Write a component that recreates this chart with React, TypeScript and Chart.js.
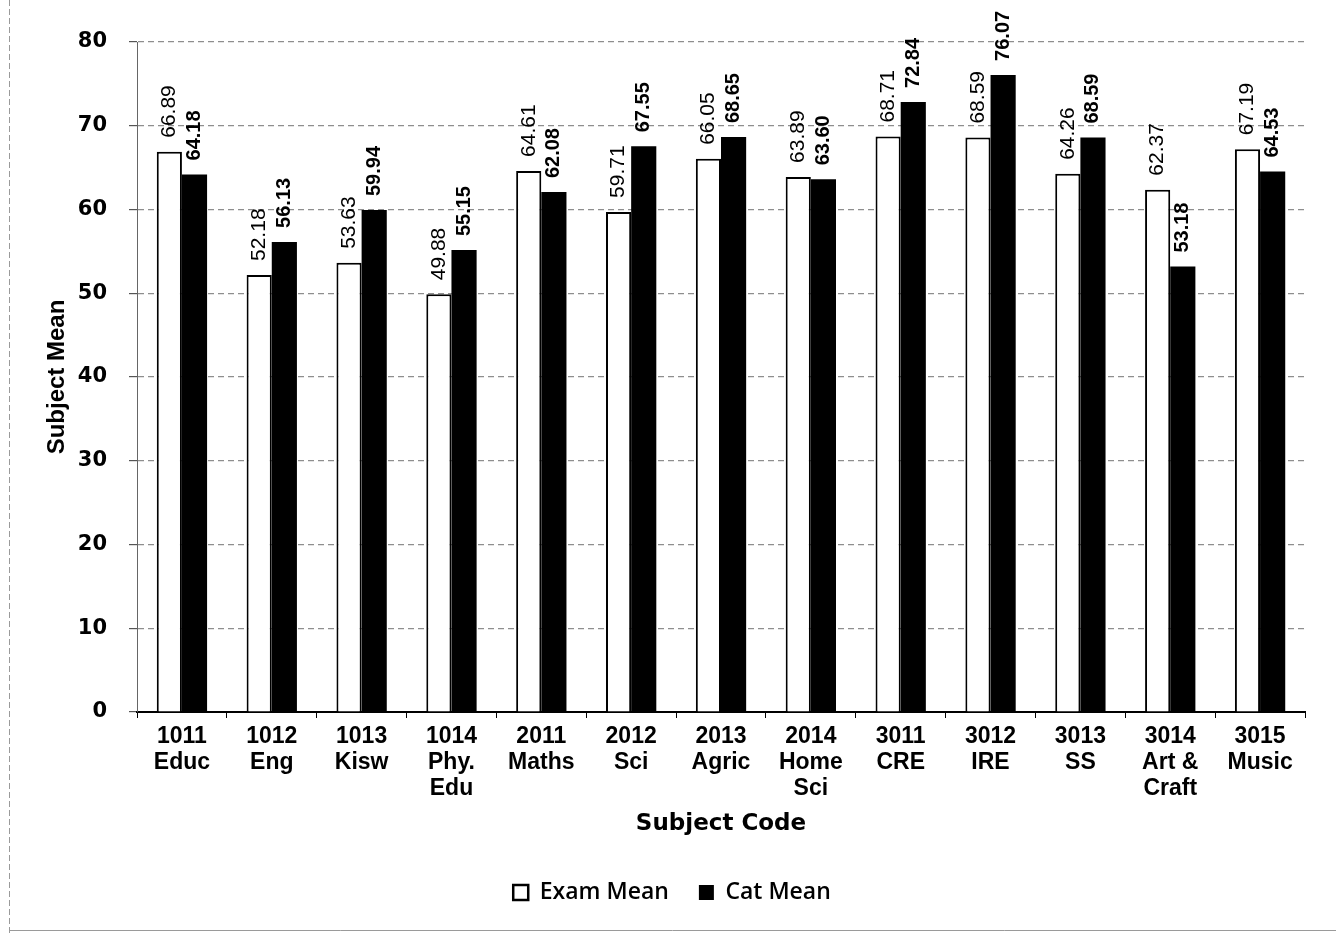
import React, { useEffect, useRef } from "react";
import { Chart, registerables } from "chart.js";

Chart.register(...registerables);

const categories: string[][] = [
  ["1011", "Educ"],
  ["1012", "Eng"],
  ["1013", "Kisw"],
  ["1014", "Phy.", "Edu"],
  ["2011", "Maths"],
  ["2012", "Sci"],
  ["2013", "Agric"],
  ["2014", "Home", "Sci"],
  ["3011", "CRE"],
  ["3012", "IRE"],
  ["3013", "SS"],
  ["3014", "Art &", "Craft"],
  ["3015", "Music"],
];

const examMean: number[] = [66.89, 52.18, 53.63, 49.88, 64.61, 59.71, 66.05, 63.89, 68.71, 68.59, 64.26, 62.37, 67.19];
const catMean: number[] = [64.18, 56.13, 59.94, 55.15, 62.08, 67.55, 68.65, 63.6, 72.84, 76.07, 68.59, 53.18, 64.53];

const yTicks: number[] = [0, 10, 20, 30, 40, 50, 60, 70, 80];

const valueLabels = {
  id: "valueLabels",
  afterDatasetsDraw(chart: any) {
    const ctx = chart.ctx;
    chart.data.datasets.forEach((ds: any, di: number) => {
      const meta = chart.getDatasetMeta(di);
      meta.data.forEach((el: any, i: number) => {
        const v = ds.data[i];
        ctx.save();
        ctx.translate(el.x, el.y - 14);
        ctx.rotate(-Math.PI / 2);
        ctx.fillStyle = "#000";
        ctx.font = di === 0 ? "21px 'Liberation Sans', Arial, sans-serif" : "bold 20px 'Liberation Sans Narrow', 'Liberation Sans', Arial, sans-serif";
        ctx.textAlign = "left";
        ctx.textBaseline = "middle";
        ctx.fillText(v.toFixed(2), 0, 0);
        ctx.restore();
      });
    });
  },
};

const frame = {
  id: "frame",
  afterDraw(chart: any) {
    const ctx = chart.ctx;
    ctx.save();
    ctx.strokeStyle = "#9a9a9a";
    ctx.lineWidth = 1;
    ctx.setLineDash([6, 3]);
    ctx.beginPath();
    ctx.moveTo(9.5, 0);
    ctx.lineTo(9.5, 934);
    ctx.stroke();
    ctx.setLineDash([]);
    ctx.beginPath();
    ctx.moveTo(9, 930.5);
    ctx.lineTo(1336, 930.5);
    ctx.stroke();
    ctx.restore();
  },
};

export default function App() {
  const ref = useRef<HTMLCanvasElement | null>(null);

  useEffect(() => {
    if (!ref.current) return;
    const chart = new Chart(ref.current, {
      type: "bar",
      data: {
        labels: categories,
        datasets: [
          {
            label: "Exam Mean",
            data: examMean,
            backgroundColor: "#ffffff",
            borderColor: "#000000",
            borderWidth: 2,
            categoryPercentage: 0.56,
            barPercentage: 1.0,
          },
          {
            label: "Cat Mean",
            data: catMean,
            backgroundColor: "#000000",
            borderColor: "#000000",
            borderWidth: 0,
            categoryPercentage: 0.56,
            barPercentage: 1.0,
          },
        ],
      },
      options: {
        responsive: false,
        animation: false,
        devicePixelRatio: 1,
        layout: { padding: { left: 39, right: 31, top: 42, bottom: 20 } },
        plugins: {
          tooltip: { enabled: false },
          legend: {
            position: "bottom",
            labels: {
              color: "#000",
              font: { family: "'Open Sans', sans-serif", size: 23, weight: "600" },
              boxWidth: 15,
              boxHeight: 15,
              padding: 30,
              generateLabels: () => [
                { text: "Exam Mean", fillStyle: "#fff", strokeStyle: "#000", lineWidth: 2.5, datasetIndex: 0, hidden: false },
                { text: "Cat Mean", fillStyle: "#000", strokeStyle: "#000", lineWidth: 0, datasetIndex: 1, hidden: false },
              ] as any,
            },
          },
        },
        scales: {
          x: {
            afterFit: (s: any) => { s.height = 139; },
            grid: {
              display: true,
              drawOnChartArea: false,
              drawTicks: true,
              tickLength: 6,
              color: "#000",
              offset: true,
            },
            border: { display: true, color: "#000", width: 2 },
            ticks: {
              color: "#000",
              padding: 5,
              maxRotation: 0,
              autoSkip: false,
              font: { family: "'Liberation Sans', Arial, sans-serif", size: 23, weight: "bold", lineHeight: 1.15 },
            },
            title: {
              display: true,
              text: "Subject Code",
              color: "#000",
              font: { family: "'DejaVu Sans', sans-serif", size: 23, weight: "bold" },
              padding: { top: 0, bottom: 13 },
            },
          },
          y: {
            min: 0,
            max: 80,
            afterFit: (s: any) => { s.width = 98; },
            afterBuildTicks: (s: any) => { s.ticks = yTicks.map((v) => ({ value: v })); },
            grid: {
              color: "#8e8e8e",
              lineWidth: 1.2,
              tickLength: 8,
              drawTicks: true,
              tickColor: "#555",
            },
            border: { display: true, color: "#666", dash: [6, 4], width: 1 },
            ticks: {
              color: "#000",
              padding: 22,
              font: { family: "'DejaVu Sans', sans-serif", size: 21, weight: "bold" },
            },
            title: {
              display: true,
              text: "Subject Mean",
              color: "#000",
              font: { family: "'Liberation Sans', Arial, sans-serif", size: 24, weight: "bold" },
              padding: { top: 4, bottom: 4 },
            },
          },
        },
      },
      plugins: [valueLabels, frame],
    } as any);
    return () => chart.destroy();
  }, []);

  return (
    <div style={{ position: "absolute", left: 0, top: 0, width: 1336, height: 934, background: "#fff" }}>
      <canvas ref={ref} width={1336} height={934} style={{ display: "block", width: 1336, height: 934 }} />
    </div>
  );
}
